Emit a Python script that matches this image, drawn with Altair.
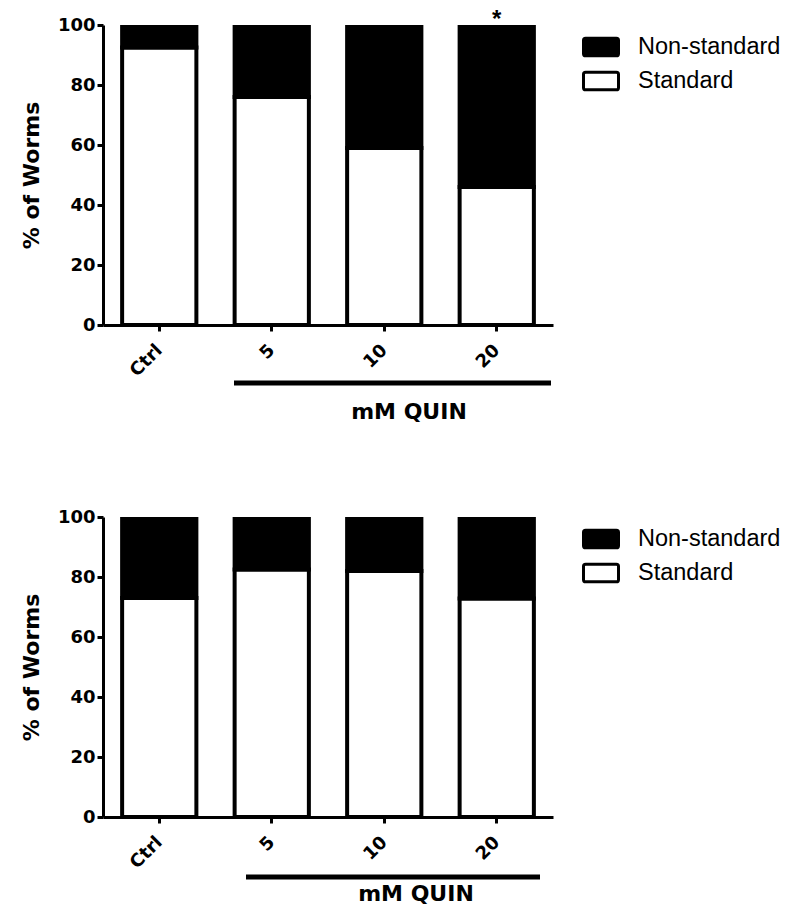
import altair as alt
import pandas as pd

categories = ["Ctrl", "5", "10", "20"]
types = ["Non-standard", "Standard"]
top_standard = [92.5, 76, 59, 46]
bottom_standard = [73, 82.5, 82, 72.8]
y_ticks = [0, 20, 40, 60, 80, 100]
y_title = "% of Worms"
x_title = "mM QUIN"
star_category = "20"
star_text = "*"

AXIS_FONT = "DejaVu Sans"
LEGEND_FONT = "Liberation Sans"
SWATCH = ("M-0.88,-0.5H0.88Q1,-0.5 1,-0.38V0.38Q1,0.5 0.88,0.5H-0.88"
          "Q-1,0.5 -1,0.38V-0.38Q-1,-0.5 -0.88,-0.5Z")


def make_df(std):
    rows = []
    for c, s in zip(categories, std):
        rows.append({"cat": c, "type": "Standard", "value": s, "ord": 0})
        rows.append({"cat": c, "type": "Non-standard", "value": 100 - s, "ord": 1})
    return pd.DataFrame(rows)


def panel(std, line_x, line_x2, line_y, title_x, title_y, star):
    df = make_df(std)
    xenc = alt.X(
        "cat:N",
        sort=categories,
        scale=alt.Scale(paddingInner=0.34, paddingOuter=0.17),
        axis=alt.Axis(
            title=None,
            labelAngle=-45,
            labelAlign="right",
            labelBaseline="top",
            labelFont=AXIS_FONT,
            labelFontWeight="bold",
            labelFontSize=18,
            labelColor="black",
            labelPadding=10,
            labelOffset=-6,
            tickSize=6,
            tickWidth=3,
            tickColor="black",
            domainWidth=3,
            domainColor="black",
            grid=False,
        ),
    )
    bars = alt.Chart(df).mark_bar(stroke="black", strokeWidth=4, clip=True).encode(
        x=xenc,
        y=alt.Y(
            "value:Q",
            stack="zero",
            scale=alt.Scale(domain=[0, 100], nice=False),
            axis=alt.Axis(
                values=y_ticks,
                title=y_title,
                titleFont=AXIS_FONT,
                titleFontWeight="bold",
                titleFontSize=22,
                titleColor="black",
                titlePadding=14,
                labelFont=AXIS_FONT,
                labelFontWeight="bold",
                labelFontSize=18,
                labelColor="black",
                labelPadding=2,
                tickSize=6,
                tickWidth=3,
                tickColor="black",
                domainWidth=3,
                domainColor="black",
                grid=False,
            ),
        ),
        color=alt.Color(
            "type:N",
            scale=alt.Scale(domain=types, range=["black", "white"]),
            legend=alt.Legend(
                title=None,
                orient="right",
                offset=26,
                padding=3,
                symbolType=SWATCH,
                symbolSize=1225,
                symbolStrokeColor="black",
                symbolStrokeWidth=3,
                labelFont=LEGEND_FONT,
                labelFontSize=23.5,
                labelColor="black",
                labelOffset=18,
                rowPadding=0,
            ),
        ),
        order=alt.Order("ord:Q"),
    )
    one = pd.DataFrame({"a": [0]})
    rule = alt.Chart(one).mark_rule(color="black", strokeWidth=5).encode(
        x=alt.value(line_x), x2=alt.value(line_x2), y=alt.value(line_y)
    )
    title = alt.Chart(one).mark_text(
        text=x_title, font=AXIS_FONT, fontWeight="bold", fontSize=22, color="black",
        baseline="middle", align="center",
    ).encode(x=alt.value(title_x), y=alt.value(title_y))
    layers = [bars, rule, title]
    if star:
        sdf = pd.DataFrame({"cat": [star_category], "t": [star_text]})
        st = alt.Chart(sdf).mark_text(
            font=LEGEND_FONT, fontSize=24, fontWeight="bold", color="black", baseline="top"
        ).encode(x=alt.X("cat:N", sort=categories), y=alt.value(-17), text="t:N")
        layers.append(st)
    return alt.layer(*layers).properties(width=450, height=300)


top = panel(top_standard, 131, 448, 358, 306, 387, True)
bottom = panel(bottom_standard, 143, 437, 360, 313, 377, False)

chart = alt.vconcat(top, bottom, spacing=85).resolve_scale(
    color="independent"
).resolve_legend(color="independent").properties(
    padding={"left": 12, "top": 0, "right": 5, "bottom": 5}
).configure_view(strokeWidth=0)

chart.save("out.html", embed_options={"renderer": "svg", "actions": False})
